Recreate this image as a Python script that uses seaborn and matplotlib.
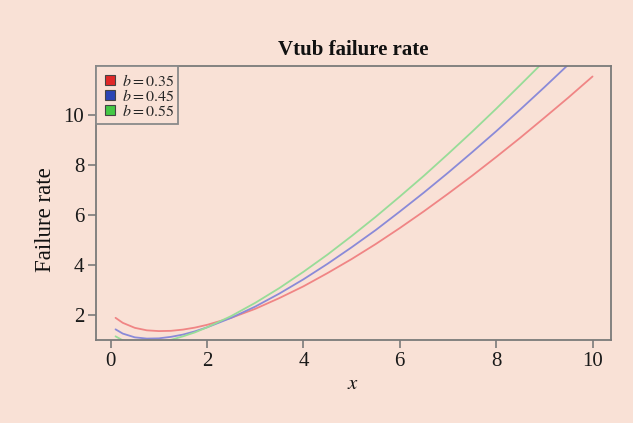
import numpy as np
import pandas as pd
import matplotlib
matplotlib.use("Agg")
import matplotlib.pyplot as plt
from matplotlib.lines import Line2D
import seaborn as sns

# Failure-rate curves of the Vtub model for three values of b
x_vals = [0.1, 0.25, 0.5, 0.75, 1.0, 1.25, 1.5, 1.75, 2.0, 2.5, 3.0, 3.5, 4.0, 4.5,
          5.0, 5.5, 6.0, 6.5, 7.0, 7.5, 8.0, 8.5, 9.0, 9.5, 10.0]
rate_b035 = [1.89, 1.69, 1.49, 1.39, 1.36, 1.37, 1.42, 1.50, 1.61, 1.89, 2.25, 2.68,
             3.15, 3.68, 4.24, 4.84, 5.48, 6.15, 6.85, 7.57, 8.32, 9.09, 9.89, 10.70, 11.54]
rate_b045 = [1.43, 1.26, 1.11, 1.06, 1.07, 1.13, 1.22, 1.35, 1.51, 1.89, 2.34, 2.86,
             3.43, 4.05, 4.71, 5.40, 6.14, 6.90, 7.69, 8.51, 9.35, 10.22, 11.11, 12.02, 12.95]
rate_b055 = [1.15, 0.99, 0.88, 0.87, 0.92, 1.01, 1.15, 1.31, 1.51, 1.96, 2.49, 3.08,
             3.73, 4.42, 5.16, 5.93, 6.74, 7.57, 8.44, 9.33, 10.25, 11.20, 12.16, 13.10, 14.10]
b_labels = ["0.35", "0.45", "0.55"]
x_ticks = [0, 2, 4, 6, 8, 10]
y_ticks = [2, 4, 6, 8, 10]

line_colors = ["#F08585", "#8A8AD8", "#98DC98"]
key_colors = ["#E02828", "#2B45B5", "#45C845"]
bg = "#F9E1D6"

df = pd.concat([
    pd.DataFrame({"x": x_vals, "rate": r, "b": lab})
    for r, lab in zip([rate_b035, rate_b045, rate_b055], b_labels)
], ignore_index=True)

sns.set_theme(style="ticks")
plt.rcParams["font.family"] = ["Liberation Serif", "DejaVu Serif"]
plt.rcParams["mathtext.fontset"] = "stix"

fig = plt.figure(figsize=(6.33, 4.23), dpi=100, facecolor=bg)
ax = fig.add_axes([0.1517, 0.196, 0.8133, 0.648])
ax.set_facecolor(bg)

sns.lineplot(data=df, x="x", y="rate", hue="b", palette=line_colors,
             linewidth=1.3, legend=False, ax=ax)

ax.set_xlim(-0.305, 10.38)
ax.set_ylim(1.0, 11.96)
ax.set_xticks(x_ticks)
ax.set_yticks(y_ticks)
ax.tick_params(axis="both", direction="out", length=6, width=1.2,
               color="#7A7A7A", labelsize=15, labelcolor="#1A1A1A", pad=2.5)
for s in ax.spines.values():
    s.set_color("#7A7A7A")
    s.set_linewidth(1.3)

ax.set_title("Vtub failure rate", fontsize=15, fontweight="bold", pad=8, color="#111111")
ax.set_xlabel("$x$", fontsize=15, labelpad=3, color="#111111")
ax.set_ylabel("Failure rate", fontsize=16.5, color="#111111")
ax.yaxis.set_label_coords(-0.077, 0.44)

handles = [Line2D([], [], linestyle="none", marker="s", markersize=6.5,
                  markerfacecolor=c, markeredgecolor="#444444", markeredgewidth=0.8)
           for c in key_colors]
labels = [f"$b = {v}$" for v in b_labels]
leg = ax.legend(handles, labels, loc="upper left", borderaxespad=0, fontsize=11.5,
                handlelength=1.25, handletextpad=0.12,
                labelspacing=-0.07, borderpad=0.25, fancybox=False, framealpha=1,
                facecolor=bg, edgecolor="#8A8A8A", title=" ", title_fontsize=5)
leg.get_frame().set_linewidth(1.3)

fig.savefig("out.png", dpi=100, facecolor=bg)
